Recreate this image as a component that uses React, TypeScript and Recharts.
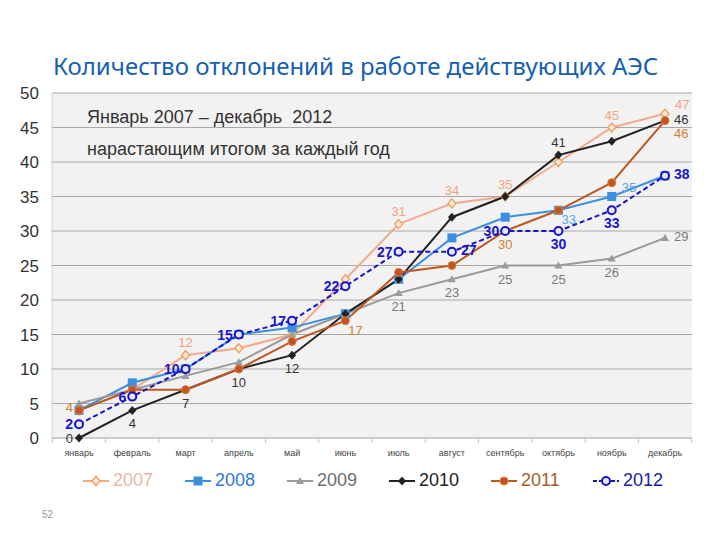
import React from "react";
import { LineChart, Line, XAxis, YAxis, CartesianGrid } from "recharts";

const months = ["январь", "февраль", "март", "апрель", "май", "июнь", "июль", "август", "сентябрь", "октябрь", "ноябрь", "декабрь"];
const y2007 = [4, 7, 12, 13, 15, 23, 31, 34, 35, 40, 45, 47];
const y2008 = [4, 8, 10, 15, 16, 18, 23, 29, 32, 33, 35, 38];
const y2009 = [5, 7, 9, 11, 15, 18, 21, 23, 25, 25, 26, 29];
const y2010 = [0, 4, 7, 10, 12, 18, 23, 32, 35, 41, 43, 46];
const y2011 = [4, 7, 7, 10, 14, 17, 24, 25, 30, 33, 37, 46];
const y2012 = [2, 6, 10, 15, 17, 22, 27, 27, 30, 30, 33, 38];
const yTicks = [0, 5, 10, 15, 20, 25, 30, 35, 40, 45, 50];

const data = months.map((m, i) => ({
  m,
  y2007: y2007[i],
  y2008: y2008[i],
  y2009: y2009[i],
  y2010: y2010[i],
  y2011: y2011[i],
  y2012: y2012[i],
}));

type Spot = "top" | "bottom" | "left" | "leftHigh" | "right" | "topRight" | "bottomRight" | "rightLow";

// which point labels are shown, and where
const spots: Record<string, Record<number, Spot>> = {
  y2007: { 2: "top", 6: "top", 7: "top", 8: "top", 10: "top", 11: "topRight" },
  y2008: { 9: "bottomRight", 10: "topRight" },
  y2009: { 6: "bottom", 7: "bottom", 8: "bottom", 9: "bottom", 10: "bottom", 11: "right" },
  y2010: { 0: "left", 1: "bottom", 2: "bottom", 3: "bottom", 4: "bottom", 9: "top", 11: "right" },
  y2011: { 0: "leftHigh", 5: "bottomRight", 8: "bottom", 11: "rightLow" },
  y2012: { 0: "left", 1: "left", 2: "left", 3: "left", 4: "left", 5: "left", 6: "left", 7: "right", 8: "left", 9: "bottom", 10: "bottom", 11: "right" },
};

const series = [
  { key: "y2007", name: "2007", stroke: "#f4a98c", text: "#e9b9a2", label: "#f2a27e", shape: "diamondOpen" },
  { key: "y2008", name: "2008", stroke: "#3b8fe0", text: "#2f78d4", label: "#5aa6ea", shape: "square" },
  { key: "y2009", name: "2009", stroke: "#9a9a9a", text: "#6e6e6e", label: "#7a7a7a", shape: "triangle" },
  { key: "y2010", name: "2010", stroke: "#222222", text: "#222222", label: "#333333", shape: "diamond" },
  { key: "y2011", name: "2011", stroke: "#c0561f", text: "#a5602a", label: "#d0822e", shape: "circle" },
  { key: "y2012", name: "2012", stroke: "#1414c8", text: "#1a1aa0", label: "#1818cc", shape: "circleOpen" },
];

const marker = (shape: string, color: string, cx: number, cy: number, k?: any) => {
  switch (shape) {
    case "diamondOpen":
      return <path key={k} d={`M${cx},${cy - 4.5}L${cx + 4},${cy}L${cx},${cy + 4.5}L${cx - 4},${cy}Z`} fill="#fbe9e0" stroke="#f0a050" strokeWidth={1.3} />;
    case "square":
      return <rect key={k} x={cx - 4.5} y={cy - 4.5} width={9} height={9} fill={color} />;
    case "triangle":
      return <path key={k} d={`M${cx},${cy - 4}L${cx + 4},${cy + 3}L${cx - 4},${cy + 3}Z`} fill={color} />;
    case "diamond":
      return <path key={k} d={`M${cx},${cy - 4.5}L${cx + 4},${cy}L${cx},${cy + 4.5}L${cx - 4},${cy}Z`} fill={color} />;
    case "circle":
      return <circle key={k} cx={cx} cy={cy} r={4} fill={color} stroke="#e07a3a" strokeWidth={1} />;
    default:
      return <circle key={k} cx={cx} cy={cy} r={4} fill="#e8e8f8" stroke={color} strokeWidth={2} />;
  }
};

const makeLabel = (key: string, color: string, bold: boolean) => (p: any) => {
  const spot = spots[key][p.index];
  if (!spot || p.x == null) return null;
  let dx = 0;
  let dy = 0;
  let anchor: "middle" | "start" | "end" = "middle";
  if (spot === "top") dy = -8;
  if (spot === "bottom") dy = 18;
  if (spot === "left") { dx = -6; dy = 5; anchor = "end"; }
  if (spot === "leftHigh") { dx = -6; dy = 2; anchor = "end"; }
  if (spot === "right") { dx = 9; dy = 3; anchor = "start"; }
  if (spot === "rightLow") { dx = 9; dy = 17; anchor = "start"; }
  if (spot === "topRight") { dx = 10; dy = -5; anchor = "start"; }
  if (spot === "bottomRight") { dx = 3; dy = 14; anchor = "start"; }
  return (
    <text key={`${key}-${p.index}`} x={p.x + dx} y={p.y + dy} textAnchor={anchor} fill={color}
      fontSize={bold ? 14 : 13} fontWeight={bold ? 700 : 400} fontFamily="Liberation Sans, Arial, sans-serif">
      {p.value}
    </text>
  );
};

const MonthTick = (p: any) => {
  const half = 26.67;
  return (
    <g>
      {p.index === 0 && <line x1={p.x - half} x2={p.x - half} y1={438} y2={443} stroke="#c8c8c8" />}
      <line x1={p.x + half} x2={p.x + half} y1={438} y2={443} stroke="#c8c8c8" />
      <text x={p.x} y={456} textAnchor="middle" fontSize={9} fill="#444" fontFamily="Liberation Sans, Arial, sans-serif">
        {p.payload.value}
      </text>
    </g>
  );
};

export default function App() {
  return (
    <div style={{ position: "absolute", left: 0, top: 0, width: 720, height: 540, background: "#fff", fontFamily: "Liberation Sans, Arial, sans-serif" }}>
      <div style={{ position: "absolute", left: 53, top: 49, fontFamily: "Noto Sans, sans-serif", fontSize: 24, color: "#1560b0", whiteSpace: "nowrap" }}>
        Количество отклонений в работе действующих АЭС
      </div>
      <LineChart width={720} height={540} data={data} margin={{ top: 93, right: 28, bottom: 72, left: 12 }}>
        <CartesianGrid vertical={false} fill="#f2f2f2" stroke="#a8a8a8" />
        <XAxis dataKey="m" height={30} interval={0} padding={{ left: 27, right: 27 }} stroke="#c8c8c8" tickLine={false} tick={MonthTick} />
        <YAxis width={40} domain={[0, 50]} ticks={yTicks} interval={0} axisLine={{ stroke: "#d0d0d0" }} tickLine={false}
          tick={{ fontSize: 17, fill: "#333", fontFamily: "Liberation Sans, Arial, sans-serif", dx: -5 }} />
        {series.map((s) => (
          <Line key={s.key} dataKey={s.key} name={s.name} stroke={s.stroke} strokeWidth={2}
            strokeDasharray={s.key === "y2012" ? "5 3" : undefined}
            isAnimationActive={false}
            dot={(p: any) => marker(s.shape, s.stroke, p.cx, p.cy, p.key ?? `${s.key}-d${p.index}`)}
            activeDot={false}
            label={makeLabel(s.key, s.label, s.key === "y2012")} />
        ))}
      </LineChart>
      <div style={{ position: "absolute", left: 87, top: 107, fontSize: 18, color: "#333", whiteSpace: "pre" }}>Январь 2007 – декабрь  2012</div>
      <div style={{ position: "absolute", left: 87, top: 139, fontSize: 18, color: "#333" }}>нарастающим итогом за каждый год</div>
      <div style={{ position: "absolute", left: 82, top: 470, display: "flex", gap: 0 }}>
        {series.map((s) => (
          <div key={s.key} style={{ display: "flex", alignItems: "center", width: 102 }}>
            <svg width={28} height={20}>
              <line x1={1} x2={27} y1={10} y2={10} stroke={s.stroke} strokeWidth={2} strokeDasharray={s.key === "y2012" ? "4 2" : undefined} />
              {marker(s.shape, s.stroke, 14, 10)}
            </svg>
            <span style={{ fontSize: 18, color: s.text, marginLeft: 3 }}>{s.name}</span>
          </div>
        ))}
      </div>
      <div style={{ position: "absolute", left: 42, top: 509, fontSize: 10, color: "#999" }}>52</div>
    </div>
  );
}
